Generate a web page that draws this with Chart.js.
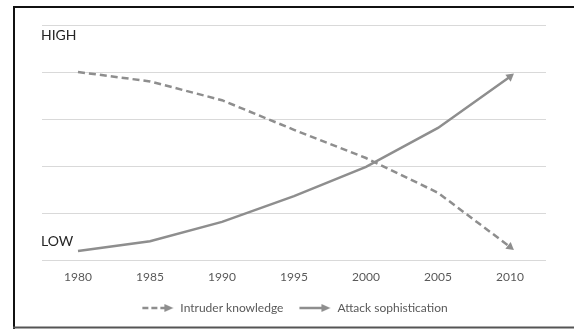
<!DOCTYPE html>
<html>
<head>
<meta charset="utf-8">
<script src="https://cdn.jsdelivr.net/npm/chart.js@4/dist/chart.umd.min.js"></script>
<style>
  html, body { margin: 0; padding: 0; background: #fff; }
  #wrap { position: relative; width: 574px; height: 329px; }
  canvas { display: block; }
</style>
</head>
<body>
<div id="wrap"><canvas id="c" width="574" height="329"></canvas></div>
<script>
const years = ["1980", "1985", "1990", "1995", "2000", "2005", "2010"];
const intruderKnowledge = [4.0, 3.8, 3.4, 2.77, 2.17, 1.43, 0.28];
const attackSophistication = [0.19, 0.4, 0.81, 1.36, 1.98, 2.81, 3.9];
const levelLabels = ["HIGH", "LOW"];
const levelValues = [4.77, 0.4];

const lineColor = '#8e8e8e';

function legendMarker(dashed) {
  const c = document.createElement('canvas');
  c.width = 34; c.height = 10;
  const g = c.getContext('2d');
  g.strokeStyle = lineColor; g.fillStyle = lineColor; g.lineWidth = 2.5;
  if (dashed) g.setLineDash([6, 3]);
  g.beginPath(); g.moveTo(2, 5); g.lineTo(26, 5); g.stroke();
  g.setLineDash([]);
  g.beginPath(); g.moveTo(24, 1); g.lineTo(33, 5); g.lineTo(24, 9); g.closePath(); g.fill();
  return c;
}

const lastOnly = (n, r) => years.map((_, i) => i === n - 1 ? r : 0);

const framePlugin = {
  id: 'frame',
  afterDraw(chart) {
    const ctx = chart.ctx;
    const y = chart.scales.y;
    ctx.save();
    ctx.fillStyle = '#262626';
    ctx.font = '14px Lato';
    ctx.textBaseline = 'middle';
    ctx.textAlign = 'left';
    levelLabels.forEach((t, i) => ctx.fillText(t, 41, y.getPixelForValue(levelValues[i])));
    ctx.strokeStyle = '#111';
    ctx.lineWidth = 2;
    ctx.beginPath();
    ctx.moveTo(14, 329); ctx.lineTo(14, 7); ctx.lineTo(574, 7);
    ctx.stroke();
    ctx.strokeStyle = '#555';
    ctx.beginPath(); ctx.moveTo(13, 327.5); ctx.lineTo(574, 327.5); ctx.stroke();
    ctx.restore();
  }
};

new Chart(document.getElementById('c'), {
  type: 'line',
  data: {
    labels: years,
    datasets: [
      {
        label: 'Intruder knowledge',
        data: intruderKnowledge,
        borderColor: lineColor,
        backgroundColor: lineColor,
        borderWidth: 2.5,
        borderDash: [7, 4],
        pointStyle: 'triangle',
        pointRadius: lastOnly(years.length, 5),
        pointHoverRadius: 0,
        pointRotation: 128,
        pointBorderWidth: 0,
        tension: 0,
        fill: false
      },
      {
        label: 'Attack sophistication',
        data: attackSophistication,
        borderColor: lineColor,
        backgroundColor: lineColor,
        borderWidth: 2.5,
        pointStyle: 'triangle',
        pointRadius: lastOnly(years.length, 5),
        pointHoverRadius: 0,
        pointRotation: 52,
        pointBorderWidth: 0,
        tension: 0,
        fill: false
      }
    ]
  },
  options: {
    responsive: false,
    animation: false,
    layout: { padding: { left: 42, right: 28, top: 25, bottom: 5 } },
    scales: {
      x: {
        offset: true,
        grid: { display: false, drawTicks: false },
        border: { display: false },
        ticks: { color: '#595959', font: { family: 'Lato', size: 12 }, padding: 10 },
        afterFit(s) { s.height = 28; }
      },
      y: {
        min: 0, max: 5,
        ticks: { display: false, stepSize: 1 },
        grid: { color: '#d9d9d9', lineWidth: 1, drawTicks: false },
        border: { display: false },
        afterFit(s) { s.width = 0; }
      }
    },
    plugins: {
      tooltip: { enabled: false },
      legend: {
        position: 'bottom',
        labels: {
          color: '#595959',
          font: { family: 'Lato', size: 12 },
          usePointStyle: true,
          pointStyleWidth: 34,
          padding: 14,
          generateLabels(chart) {
            return chart.data.datasets.map((d, i) => ({
              text: d.label,
              pointStyle: legendMarker(i === 0),
              fillStyle: lineColor,
              strokeStyle: lineColor,
              lineWidth: 0,
              hidden: false,
              datasetIndex: i,
              fontColor: '#595959'
            }));
          }
        }
      }
    }
  },
  plugins: [framePlugin]
});
</script>
</body>
</html>
